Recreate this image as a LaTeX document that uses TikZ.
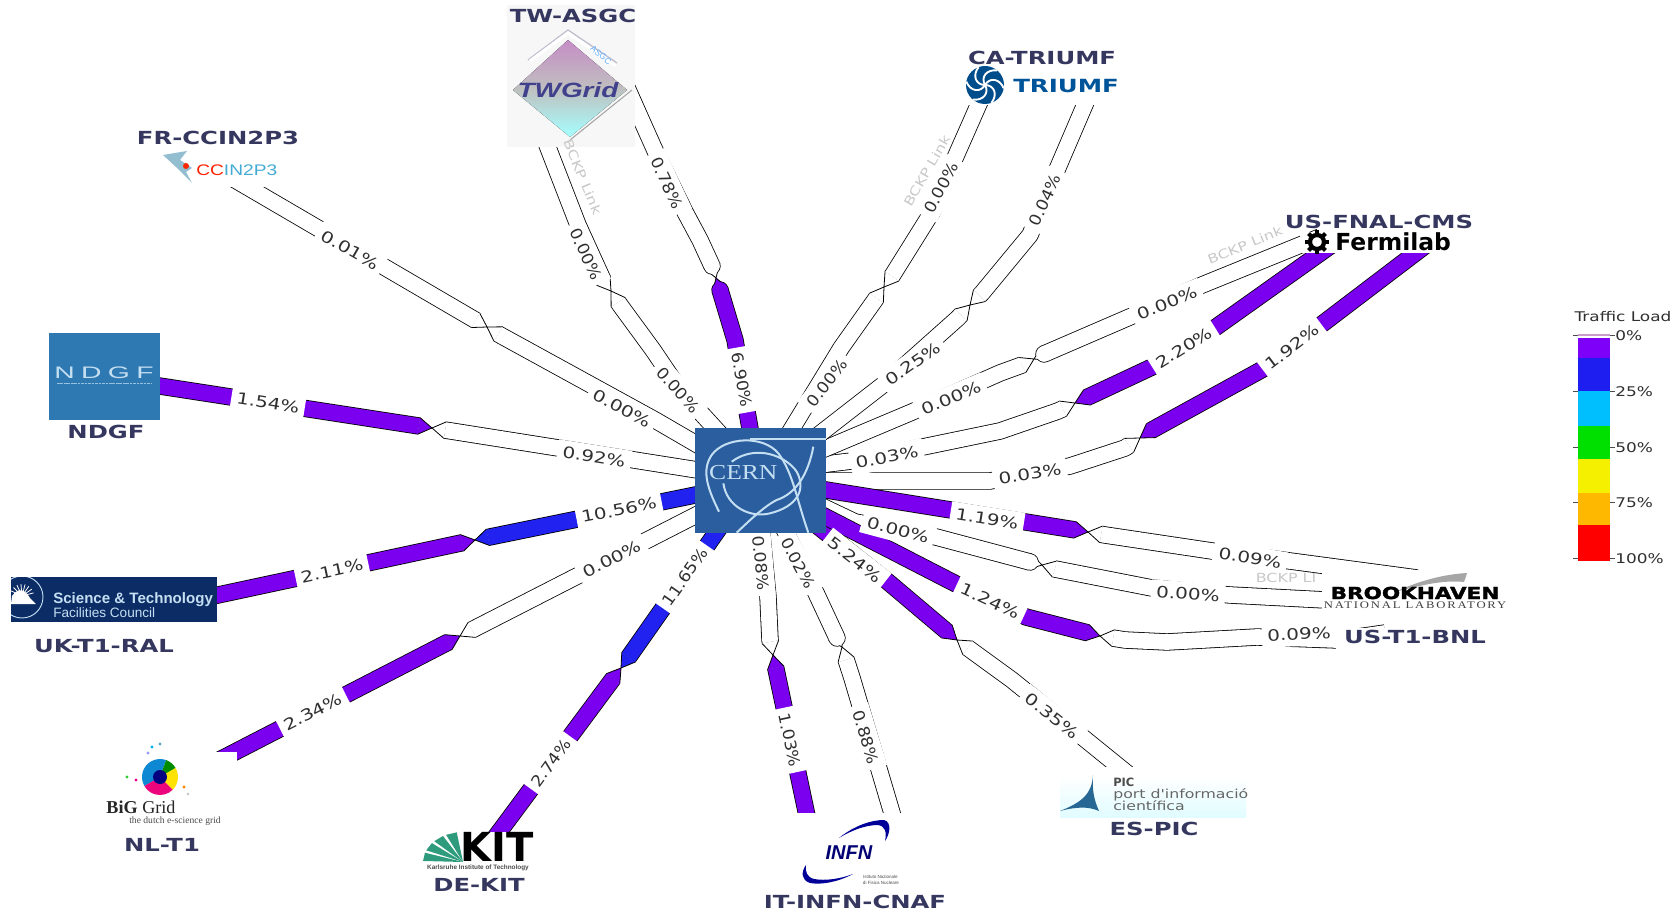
\documentclass[tikz,border=0pt]{standalone}
\usepackage{fontspec}
\usetikzlibrary{calc,fit}
\setmainfont{DejaVu Sans}
\newfontfamily\pctfont[FakeStretch=1.27]{DejaVu Sans}
\newfontfamily\pctfontv[FakeStretch=1.1]{DejaVu Sans}
\newfontfamily\sitefont[FakeStretch=1.35]{DejaVu Sans}
\newfontfamily\bnlfont[FakeStretch=1.3,BoldFeatures={FakeBold=2}]{DejaVu Sans}
\newfontfamily\logosans{Liberation Sans}
\newfontfamily\logoserif{Liberation Serif}
\newfontfamily\twfont[FakeStretch=1.35]{Liberation Sans}
\newfontfamily\ccfont[FakeStretch=1.25]{Liberation Sans}
\newfontfamily\ndgffont[FakeStretch=1.7,LetterSpace=38]{Liberation Sans}
\newfontfamily\bnlserif[FakeStretch=1.25,LetterSpace=18]{Liberation Serif}
\newfontfamily\cernfont[FakeStretch=1.2]{Liberation Serif}
\definecolor{pur}{HTML}{7B00F0}
\definecolor{blu}{HTML}{2222F0}
\definecolor{navy}{HTML}{35375F}
\definecolor{pctgray}{HTML}{303030}
\definecolor{cernblue}{HTML}{2B5E9F}
\definecolor{cernline}{HTML}{C4DFF2}
\definecolor{ndgfblue}{HTML}{2F79B3}
\definecolor{stfcblue}{HTML}{0C2C66}
\definecolor{bckpgray}{HTML}{C8C8C8}
\definecolor{kitgreen}{HTML}{2E9C7C}
\tikzset{
  bandout/.style={black,line width=13pt,line join=round},
  pctlabel/.style={fill=white,text=pctgray,font=\pctfont\fontsize{11.8}{12}\selectfont,inner xsep=4pt,inner ysep=0pt,minimum height=18pt},
  pctlabelv/.style={pctlabel,font=\pctfontv\fontsize{11.8}{12}\selectfont},
  bckplabel/.style={text=bckpgray,font=\pctfont\fontsize{9.4}{11}\selectfont,inner sep=0pt},
  sitelabel/.style={text=navy,font=\sitefont\bfseries\fontsize{13.5}{14}\selectfont,inner sep=1pt},
  legendtext/.style={text=pctgray,font=\pctfont\fontsize{10}{12}\selectfont,inner sep=0pt,anchor=west},
}
\newcommand\halfband[4]{%
  \coordinate (hbP) at #3;
  \coordinate (hbQ) at ($(#4)!10pt!(hbP)$);
  \draw[bandout] #2 (hbP) -- (hbQ);
  \filldraw[fill=#1,draw=black,line width=.6pt,line join=round] ($(hbQ)!6.3pt!90:(#4)$) -- (#4) -- ($(hbQ)!6.3pt!-90:(#4)$);
  \draw[#1,line width=11.8pt,line join=round] #2 (hbP) -- (hbQ);
}
\newcounter{pctn}
\newcommand\pct[3]{\stepcounter{pctn}\node[pctlabel,rotate=#2] (pct\thepctn) at (#1) {#3\%};}
\newcommand\pctv[3]{\stepcounter{pctn}\node[pctlabelv,rotate=#2] (pct\thepctn) at (#1) {#3\%};}
\newcommand\logobox[6]{\node[fit={(#2,#3) (#4,#5)},inner sep=0pt,fill=#6] (#1) {};}
\begin{document}
\begin{tikzpicture}[x=0.75pt,y=-0.75pt]
\useasboundingbox (0,0) rectangle (1680,912);
\fill[white] (0,0) rectangle (1680,912);
% ---------- link mid points
\coordinate (mNDGF) at (432,428);
\coordinate (mRAL) at (475,540);
\coordinate (mNL) at (460,636);
\coordinate (mKIT) at (621,668);
\coordinate (mINa) at (773,655);
\coordinate (mINb) at (842,647);
\coordinate (mPIC) at (957,640);
\coordinate (mBNLa) at (1100,636);
\coordinate (mBNLb) at (1088,532);
\coordinate (mBNLc) at (1042,565);
\coordinate (mFNa) at (1140,438);
\coordinate (mFNb) at (1075,403);
\coordinate (mFNc) at (1034,359);
\coordinate (mTRa) at (970,305);
\coordinate (mTRb) at (884,287);
\coordinate (mTWa) at (716,278);
\coordinate (mTWb) at (611,291);
\coordinate (mCC) at (487,327);
% ---------- white half links first
\halfband{white}{}{(710,472)}{mNDGF}
\halfband{white}{}{(710,508)}{mNL}
\halfband{white}{(761,525) -- (768,597) --}{(770,640)}{mINa}
\halfband{white}{(782,525) -- (816,593) --}{(837,638)}{mINb}
\halfband{white}{(897,830) --}{(852,678)}{mINb}
\halfband{white}{(1133,778) --}{(1012,680)}{mPIC}
\halfband{white}{(1385,633) -- (1337,640) -- (1257,637) -- (1167,642) --}{(1125,640)}{mBNLa}
\halfband{white}{(1417,578) -- (1290,561) -- (1212,551) --}{(1105,535)}{mBNLb}
\halfband{white}{(1345,601) -- (1230,595) -- (1152,588) --}{(1055,569)}{mBNLc}
\halfband{white}{(815,503) -- (855,522) -- (936,537) --}{(1030,562)}{mBNLc}
\halfband{white}{(810,481) -- (990,481) -- (1070,466) --}{(1125,448)}{mFNa}
\halfband{white}{(810,466) -- (860,460) -- (1000,431) --}{(1058,411)}{mFNb}
\halfband{white}{(1320,237) -- (1202,285) -- (1132,316) --}{(1044,354)}{mFNc}
\halfband{white}{(810,455) -- (912,412) -- (1000,373) --}{(1022,365)}{mFNc}
\halfband{white}{(1092,88) -- (1056,172) -- (1030,235) --}{(982,293)}{mTRa}
\halfband{white}{(812,440) -- (884,384) --}{(958,318)}{mTRa}
\halfband{white}{(985,90) -- (955,158) -- (932,212) --}{(892,276)}{mTRb}
\halfband{white}{(788,435) -- (841,348) --}{(875,300)}{mTRb}
\halfband{white}{(620,72) -- (657,155) -- (685,212) -- (700,240) --}{(712,266)}{mTWa}
\halfband{white}{(530,100) -- (547,145) -- (578,225) --}{(603,280)}{mTWb}
\halfband{white}{(722,436) -- (680,390) -- (653,350) --}{(620,305)}{mTWb}
\halfband{white}{(220,171) --}{(475,320)}{mCC}
\halfband{white}{(710,452) -- (655,420) --}{(500,335)}{mCC}
% ---------- coloured half links
\halfband{pur}{}{(140,383)}{mNDGF}
\halfband{pur}{}{(190,601)}{mRAL}
\halfband{blu}{}{(710,492)}{mRAL}
\halfband{pur}{}{(200,770)}{mNL}
\halfband{pur}{}{(485,851)}{mKIT}
\halfband{blu}{}{(725,520)}{mKIT}
\halfband{pur}{}{(810,830)}{mINa}
\halfband{pur}{(815,524) -- (887,581) --}{(945,630)}{mPIC}
\halfband{pur}{(820,514) -- (958,585) --}{(1026,617)}{mBNLa}
\halfband{pur}{}{(820,489)}{mBNLb}
\halfband{pur}{(1430,242) -- (1317,328) -- (1263,369) --}{(1152,430)}{mFNa}
\halfband{pur}{(1333,244) -- (1212,330) -- (1152,367) --}{(1088,397)}{mFNb}
\halfband{pur}{(752,440) -- (745,400) -- (735,340) --}{(720,290)}{mTWa}
% ---------- percent labels
\pct{268,403}{-9}{1.54}
\pct{594,457}{-9}{0.92}
\pct{332,571}{12}{2.11}
\pct{619,510}{11}{10.56}
\pct{313,712}{27}{2.34}
\pct{612,559}{27}{0.00}
\pctv{551,763}{54}{2.74}
\pctv{685,577}{55}{11.65}
\pctv{790,740}{-78}{1.03}
\pctv{761,563}{-85}{0.08}
\pctv{866,737}{-73}{0.88}
\pctv{798,563}{-62}{0.02}
\pct{1052,716}{-38}{0.35}
\pct{855,560}{-38}{5.24}
\pct{990,601}{-25}{1.24}
\pct{1299,634}{3}{0.09}
\pct{987,519}{-9}{1.19}
\pct{1250,558}{-10}{0.09}
\pct{898,530}{-15}{0.00}
\pct{1188,594}{-4}{0.00}
\pct{1292,347}{37}{1.92}
\pct{1030,474}{9}{0.03}
\pct{1184,348}{32}{2.20}
\pct{887,457}{11}{0.03}
\pct{951,398}{23}{0.00}
\pct{1167,303}{22}{0.00}
\pctv{1045,200}{65}{0.04}
\pct{913,364}{35}{0.25}
\pctv{941,188}{62}{0.00}
\pctv{827,383}{52}{0.00}
\pctv{667,183}{-65}{0.78}
\pctv{742,380}{-80}{6.90}
\pctv{586,254}{-65}{0.00}
\pctv{678,390}{-48}{0.00}
\pct{350,250}{-30}{0.01}
\pct{622,408}{-28}{0.00}
% ---------- CERN
\node[fit={(695,428) (826,533)},inner sep=0pt,fill=cernblue] (cern) {};
\begin{scope}[shift={(600,340)},x=0.25pt,y=-0.25pt,cernline,line width=1.5pt]
  \draw (450,298) -- (677,298);
  \draw (357,515) .. controls (320,440) and (305,390) .. (335,345) .. controls (375,290) and (490,285) .. (535,340) .. controls (580,400) and (590,480) .. (625,578);
  \draw (370,430) .. controls (380,500) and (450,535) .. (510,520) .. controls (590,500) and (620,450) .. (590,395) .. controls (560,350) and (470,310) .. (395,365);
  \draw (640,320) .. controls (625,400) and (590,460) .. (530,480) .. controls (490,500) and (440,550) .. (410,578);
  \node[text=cernline,font=\cernfont\fontsize{16}{17}\selectfont,inner sep=0pt] (cerntxt) at (430,398) {CERN};
\end{scope}
% ---------- NDGF
\logobox{ndgf}{49}{333}{160}{420}{ndgfblue}
\node[text=cernline,font=\ndgffont\fontsize{12.5}{13}\selectfont,inner sep=0pt] (ndgftxt) at (104,373) {NDGF};
\draw[cernline!70!ndgfblue,line width=.7pt,dash pattern=on 2pt off .6pt] (57,383) -- (151,383);
\node[sitelabel] (ndgflab) at (106,432) {NDGF};
% ---------- STFC
\logobox{stfc}{11}{577}{217}{622}{stfcblue}
\begin{scope}
  \clip (11,577) rectangle (217,622);
  \draw[cernline,line width=.7pt] (22,597) circle[radius=21];
  \fill[white] (11,604) -- (12,596) .. controls (18,588) and (24,588) .. (30,598) -- (36,604) -- cycle;
  \foreach \a in {15,35,...,165}{\draw[white,line width=.6pt] (22,596) -- ($(22,596)+({12*cos(\a)},{-12*sin(\a)})$);}
\end{scope}
\node[anchor=west,text=cernline,font=\logosans\bfseries\fontsize{11.3}{13}\selectfont,inner sep=0pt] (stfca) at (53,600) {Science \& Technology};
\node[anchor=west,text=cernline,font=\logosans\fontsize{10.2}{11}\selectfont,inner sep=0pt] (stfcb) at (53,613) {Facilities Council};
\node[sitelabel] (ralab) at (104,646) {UK-T1-RAL};
% ---------- BiG Grid
\logobox{bigbox}{72}{752}{237}{832}{white}
\begin{scope}[shift={(160,777)}]
  \fill[cyan!70!blue] (0,0) -- (-210:18) arc[start angle=-210,end angle=-70,radius=18] -- cycle;
  \fill[green!55!black] (0,0) -- (-70:18) arc[start angle=-70,end angle=-30,radius=18] -- cycle;
  \fill[yellow!85!orange] (0,0) -- (-30:18) arc[start angle=-30,end angle=45,radius=18] -- cycle;
  \fill[magenta!85!red] (0,0) -- (45:18) arc[start angle=45,end angle=150,radius=18] -- cycle;
  \fill[blue!50!black] (0,0) circle[radius=7];
  \foreach \p/\c in {{-8,-30}/cyan,{0,-33}/cyan!60!gray,{-33,0}/green!60!gray,{-24,3}/magenta,{24,10}/orange,{28,17}/gray!40,{-12,-24}/blue!40}{\fill[\c] (\p) circle[radius=1.7];}
\end{scope}
\node[inner sep=0pt,font=\logoserif\fontsize{13.6}{14}\selectfont,text=black!85] (bigtxt) at (141,807) {\textbf{BiG} Grid};
\node[inner sep=0pt,font=\logoserif\fontsize{7.2}{8}\selectfont,text=black!70] (bigsub) at (175,821) {the dutch e-science grid};
\node[sitelabel] (nllab) at (162,845) {NL-T1};
% ---------- KIT
\logobox{kitbox}{423}{832}{533}{872}{white}
\foreach \a/\b in {178/162,157/141,136/120,115/99}{\fill[kitgreen] (463,862) -- ($(463,862)+({40*cos(\a)},{-30*sin(\a)})$) -- ($(463,862)+({40*cos(\b)},{-30*sin(\b)})$) -- cycle;}
\node[inner sep=0pt,font=\bfseries\fontsize{30}{31}\selectfont,text=black] (kittxt) at (497,847) {KIT};
\node[inner sep=0pt,font=\logosans\bfseries\fontsize{4.8}{5}\selectfont,text=black!70] (kitsub) at (478,868) {Karlsruhe Institute of Technology};
\node[sitelabel] (kitlab) at (479,885) {DE-KIT};
% ---------- INFN
\logobox{infnbox}{780}{813}{910}{891}{white}
\fill[blue!60!black] (839,838) .. controls (855,825) and (872,820) .. (884,820) .. controls (892,822) and (890,834) .. (885,841) .. controls (887,832) and (885,826) .. (878,825) .. controls (866,825) and (852,830) .. (839,838) -- cycle;
\fill[blue!60!black] (853,874) .. controls (838,882) and (822,885) .. (810,883) .. controls (801,880) and (801,872) .. (806,865) .. controls (805,872) and (807,877) .. (814,879) .. controls (825,881) and (840,879) .. (853,874) -- cycle;
\node[inner sep=0pt,font=\logosans\bfseries\itshape\fontsize{15}{15}\selectfont,text=blue!45!black] (infntxt) at (849,853) {INFN};
\node[inner sep=0pt,align=left,font=\logosans\fontsize{3.4}{4}\selectfont,text=black!70] (infnsub) at (881,880) {Istituto Nazionale\\di Fisica Nucleare};
\node[sitelabel] (inlab) at (855,902) {IT-INFN-CNAF};
% ---------- PIC
\logobox{picwhite}{1040}{767}{1250}{777}{white}
\node[fit={(1060,777) (1246,817)},inner sep=0pt,top color=white,bottom color=blue!10!cyan!12] (picbox) {};
\fill[blue!40!cyan!50!black!85] (1093,775) .. controls (1092,795) and (1080,803) .. (1060,811) .. controls (1075,807) and (1088,806) .. (1099,811) .. controls (1094,800) and (1092,790) .. (1093,775) -- cycle;
\node[anchor=west,inner sep=0pt,font=\bfseries\fontsize{8.6}{9}\selectfont,text=black!70] (pica) at (1113,782) {PIC};
\node[anchor=west,inner sep=0pt,font=\pctfont\fontsize{9.3}{10}\selectfont,text=black!60] (picb) at (1113,795) {port d'informació};
\node[anchor=west,inner sep=0pt,font=\pctfont\fontsize{9.3}{10}\selectfont,text=black!60] (picc) at (1113,806) {científica};
\node[sitelabel] (piclab) at (1154,829) {ES-PIC};
% ---------- BNL
\logobox{bnlbox}{1322}{571}{1510}{612}{white}
\fill[black!35] (1395,592) .. controls (1425,578) and (1450,574) .. (1467,573) .. controls (1466,577) and (1465,579) .. (1464,582) .. controls (1445,580) and (1425,584) .. (1395,592) -- cycle;
\node[inner sep=0pt,font=\bnlfont\bfseries\fontsize{12.4}{13}\selectfont,text=black] (bnla) at (1415,593) {BROOKHAVEN};
\node[inner sep=0pt,font=\bnlserif\fontsize{7.6}{8}\selectfont,text=black!75] (bnlb) at (1415,605) {NATIONAL LABORATORY};
\logobox{bnllabbox}{1336}{628}{1495}{650}{white}
\node[sitelabel] (bnllab) at (1415,637) {US-T1-BNL};
% ---------- Fermilab
\logobox{fnalbox}{1300}{232}{1460}{253}{white}
\foreach \a in {0,45,...,315}{\draw[black,line width=3pt] ($(1317,242)+({6*cos(\a)},{6*sin(\a)})$) -- ($(1317,242)+({12*cos(\a)},{12*sin(\a)})$);}
\draw[black,line width=3.2pt] (1317,242) circle[radius=7];
\node[anchor=west,inner sep=0pt,font=\bfseries\fontsize{17.6}{18}\selectfont,text=black] (fnaltxt) at (1335,242) {Fermilab};
\node[sitelabel] (fnallab) at (1379,222) {US-FNAL-CMS};
% ---------- TRIUMF
\logobox{trbox}{963}{42}{1122}{105}{white}
\fill[blue!45!cyan!55!black] (985,85) circle[radius=19];
\foreach \a in {0,60,...,300}{\draw[white,line width=1.4pt] (985,85) .. controls ($(985,85)+({9*cos(\a)},{9*sin(\a)})$) and ($(985,85)+({16*cos(\a+35)},{16*sin(\a+35)})$) .. ($(985,85)+({19*cos(\a+70)},{19*sin(\a+70)})$);}
\node[anchor=west,inner sep=0pt,font=\sitefont\bfseries\fontsize{13.6}{14}\selectfont,text=blue!45!cyan!60!black] (trtxt) at (1013,86) {TRIUMF};
\node[sitelabel] (trlab) at (1042,58) {CA-TRIUMF};
% ---------- TWGrid
\logobox{twbox}{507}{5}{635}{147}{black!3}
\draw[blue!25!black!25,line width=1pt] (528,60) -- (568,30) -- (617,63);
\draw[white,line width=2.4pt] (530,61) -- (568,33) -- (616,66);
\fill[top color=violet!45!white,bottom color=cyan!35!white,middle color=black!25] (513,90) -- (568,40) -- (627,90) -- (570,137) -- cycle;
\draw[black!35,line width=.8pt] (570,140) -- (632,90);
\node[inner sep=0pt,font=\twfont\bfseries\itshape\fontsize{15.5}{16}\selectfont,text=blue!40!black!75] (twtxt) at (568,90) {TWGrid};
\node[inner sep=0pt,rotate=-40,font=\logosans\fontsize{6.4}{7}\selectfont,text=blue!50!cyan!60] (twsub) at (601,55) {ASGC};
\node[sitelabel] (twlab) at (573,16) {TW-ASGC};
% ---------- CCIN2P3
\logobox{ccbox}{150}{150}{296}{187}{white}
\fill[cyan!45!gray!70] (163,155) -- (187,151) -- (180,160) -- (192,168) -- (186,172) -- (192,183) -- (176,167) -- cycle;
\fill[red!70!orange] (186,166) circle[radius=3];
\node[anchor=west,inner sep=0pt,font=\ccfont\fontsize{11.5}{12}\selectfont] (cctxt) at (196,170) {\textcolor{red!75!orange}{CC}\textcolor{cyan!70!gray}{IN2P3}};
\node[sitelabel] (cclab) at (218,138) {FR-CCIN2P3};
% ---------- backup link labels
\node[bckplabel,rotate=22] (bk1) at (1245,245) {BCKP Link};
\node[bckplabel,rotate=60] (bk2) at (927,171) {BCKP Link};
\node[bckplabel,rotate=-68] (bk3) at (583,177) {BCKP Link};
\node[bckplabel] (bk4) at (1286,578) {BCKP LI};
% ---------- legend
\node[inner sep=0pt,text=pctgray,font=\pctfont\fontsize{10}{11}\selectfont] (legtitle) at (1623,317) {Traffic Load};
\foreach \ya/\yb/\c in {338/358/7F00F8,358/391/1E1EF0,391/426/00BFFF,426/459/00E000,459/493/F5F000,493/525/FFB800,525/561/FF0000}{
  \definecolor{legc}{HTML}{\c}
  \fill[legc] (1578,\ya) rectangle (1610,\yb);
}
\draw[violet!40,line width=.8pt] (1578,335) -- (1610,335);
\foreach \y in {335,391,447,502,558}{
  \draw[black!70,line width=.6pt] (1573,\y) -- (1578,\y);
  \draw[black!70,line width=.6pt] (1610,\y) -- (1615,\y);
}
\node[legendtext] (leg0) at (1615,336) {0\%};
\node[legendtext] (leg25) at (1615,392) {25\%};
\node[legendtext] (leg50) at (1615,448) {50\%};
\node[legendtext] (leg75) at (1615,503) {75\%};
\node[legendtext] (leg100) at (1615,559) {100\%};
\end{tikzpicture}
\end{document}
